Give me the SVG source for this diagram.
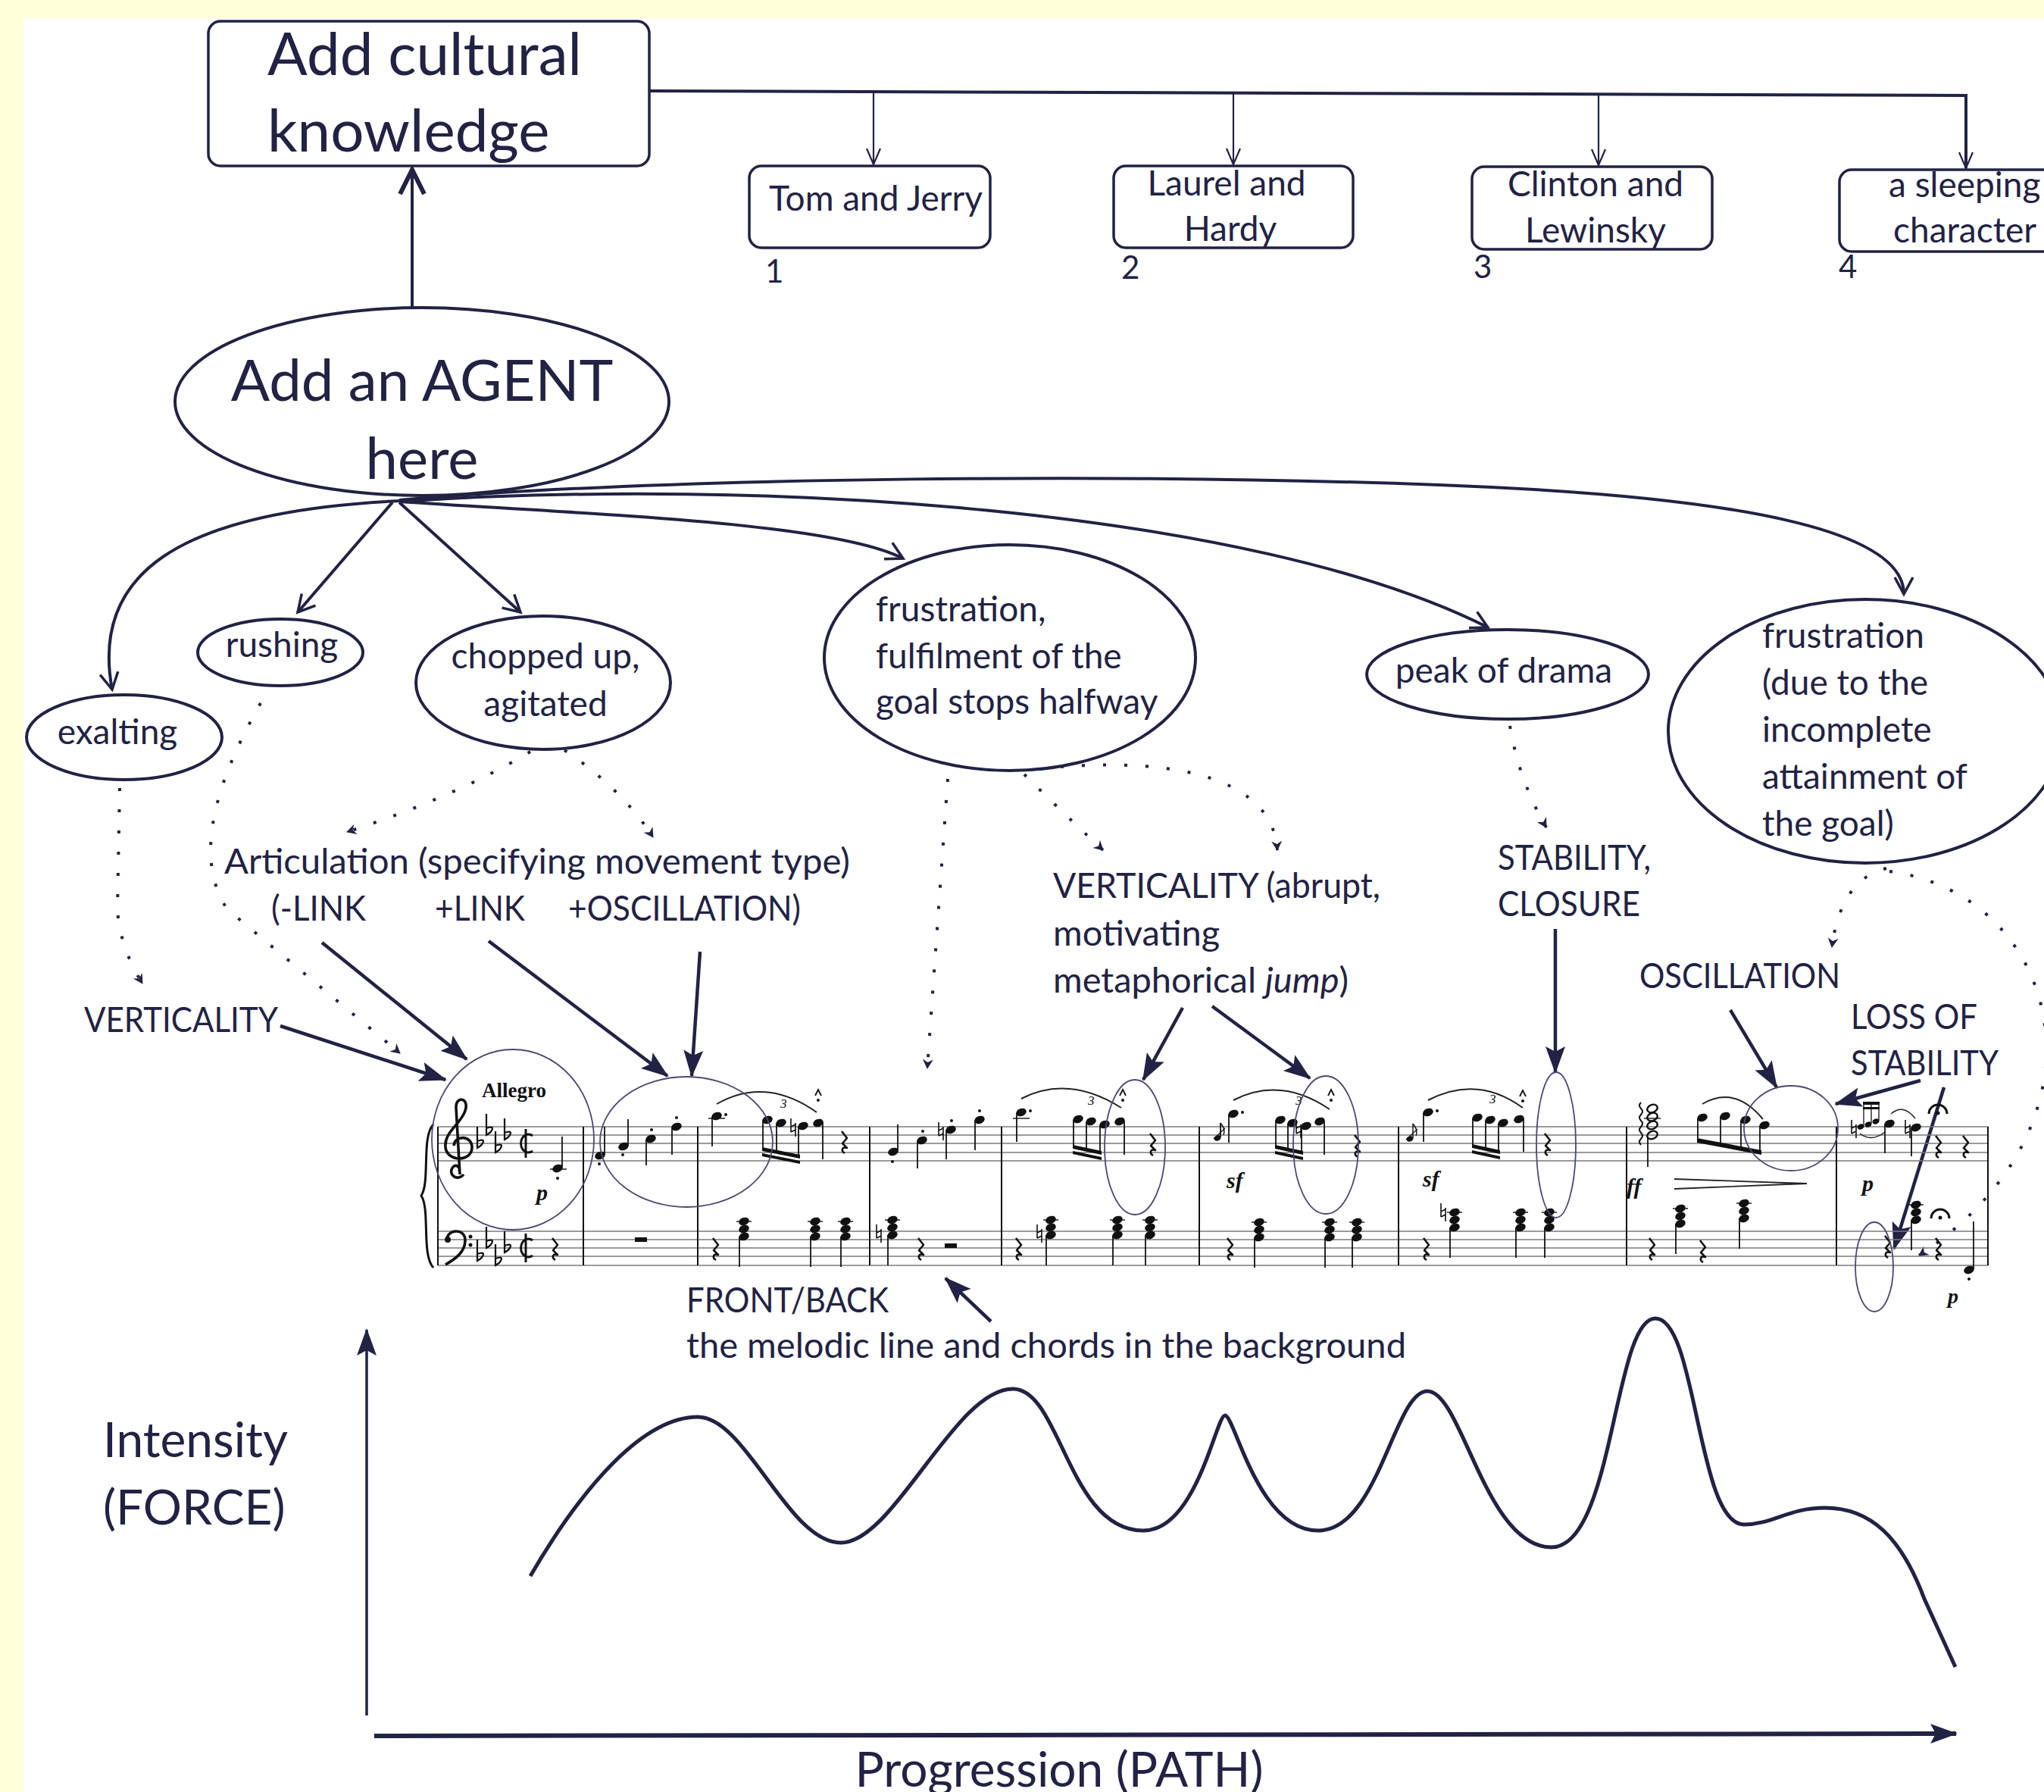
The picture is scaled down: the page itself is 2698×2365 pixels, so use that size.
<svg xmlns="http://www.w3.org/2000/svg" xmlns:xlink="http://www.w3.org/1999/xlink" width="2698" height="2365" viewBox="0 0 2698 2365">
<style>
.t{font-family:Lato,"Open Sans","DejaVu Sans",sans-serif;fill:#222244}
.n46{font-size:46px}.n47{font-size:47px}
.node{fill:#fff;stroke:#222244;stroke-width:4}
.box{fill:#fff;stroke:#222244;stroke-width:3.5}
.con{fill:none;stroke:#222244;stroke-width:4}
.thin{fill:none;stroke:#222244;stroke-width:2.2}
.sol{fill:none;stroke:#222244;stroke-width:4.5}
.dot{fill:none;stroke:#222244;stroke-width:4;stroke-dasharray:4 24}
.sl{stroke:#7a7a7a;stroke-width:1.6}
.bar{stroke:#111;stroke-width:2}
.stem{stroke:#111;stroke-width:1.8}
.sc{fill:none;stroke:#4a4a72;stroke-width:1.8}
.mus{font-family:"Liberation Serif",serif;fill:#111}
</style>
<defs>
<marker id="oa" markerUnits="userSpaceOnUse" markerWidth="30" markerHeight="30" viewBox="-2 -15 28 30" refX="22" refY="0" orient="auto"><path d="M0,-12 L22,0 L0,12" fill="none" stroke="#222244" stroke-width="3.5"/></marker>
<marker id="ob" markerUnits="userSpaceOnUse" markerWidth="40" markerHeight="40" viewBox="-3 -20 40 40" refX="32" refY="0" orient="auto"><path d="M0,-16 L32,0 L0,16" fill="none" stroke="#222244" stroke-width="6"/></marker>
<marker id="ot" markerUnits="userSpaceOnUse" markerWidth="26" markerHeight="22" viewBox="-2 -11 26 22" refX="21" refY="0" orient="auto"><path d="M0,-9 L21,0 L0,9" fill="none" stroke="#222244" stroke-width="2.2"/></marker>
<marker id="fa" markerUnits="userSpaceOnUse" markerWidth="40" markerHeight="30" viewBox="0 -15 40 30" refX="34" refY="0" orient="auto"><path d="M0,-13 L36,0 L0,13 L7,0 Z" fill="#222244"/></marker>
<marker id="da" markerUnits="userSpaceOnUse" markerWidth="16" markerHeight="16" viewBox="-1 -8 16 16" refX="12" refY="0" orient="auto"><path d="M0,-7 L13,0 L0,7 L4,0 Z" fill="#222244"/></marker>
<ellipse id="nh" cx="0" cy="0" rx="7" ry="5" transform="rotate(-22)" fill="#111"/>
<ellipse id="gh" cx="0" cy="0" rx="4.5" ry="3.4" transform="rotate(-22)" fill="#111"/>
<path id="flat" d="M-3,-22 L-3,6 C6,1 9,-8 -3,-3" fill="none" stroke="#111" stroke-width="2.2"/>
<path id="nat" d="M-3,-12 L-3,6 M3,-6 L3,12 M-3,-1 L3,-4 M-3,6 L3,3" fill="none" stroke="#111" stroke-width="1.6"/>
<path id="qr" d="M-3,-14 L4,-5 L-2,2 L4,8 C-3,6 -4,12 1,15" fill="none" stroke="#111" stroke-width="2.6" stroke-linejoin="round"/>
<g id="chord"><use xlink:href="#nh" x="0" y="0"/><use xlink:href="#nh" x="0" y="10"/><use xlink:href="#nh" x="0" y="20"/><line x1="-10" y1="0" x2="10" y2="0" stroke="#111" stroke-width="1.4"/><line x1="-6" y1="20" x2="-6" y2="60" class="stem"/></g>
<path id="cut" d="M9,-10 A10,12 0 1 0 9,10 M0,-19 L0,19" fill="none" stroke="#111" stroke-width="3"/>
</defs>

<rect x="0" y="0" width="2698" height="2365" fill="#FFFFDA"/>
<rect x="31" y="24" width="2667" height="2341" fill="#FFFFFF"/>

<g id="connectors">
<path class="con" d="M857,120 L2595,126 L2595,222" marker-end="url(#ot)" stroke-width="4"/>
<path class="thin" d="M1153,121 L1153,217" marker-end="url(#ot)"/>
<path class="thin" d="M1628,123 L1628,217" marker-end="url(#ot)"/>
<path class="thin" d="M2110,124 L2110,218" marker-end="url(#ot)"/>
<path class="con" d="M544,407 L544,224" stroke-width="7" marker-end="url(#ob)"/>
<path class="con" d="M527,661 C230,675 120,760 148,910" marker-end="url(#oa)"/>
<path class="con" d="M518,663 L393,808" marker-end="url(#oa)"/>
<path class="con" d="M527,663 L687,808" marker-end="url(#oa)"/>
<path class="con" d="M527,662 C800,680 1100,690 1192,737" marker-end="url(#oa)"/>
<path class="con" d="M527,662 C1000,630 1650,670 1964,828" marker-end="url(#oa)"/>
<path class="con" d="M527,660 C900,628 1500,625 1900,640 C2300,655 2513,700 2513,784" marker-end="url(#oa)"/>
<path class="dot" d="M158,1040 L155,1200 Q158,1250 188,1298" marker-end="url(#da)"/>
<path class="dot" d="M344,928 Q240,1110 300,1200 L528,1390" marker-end="url(#da)"/>
<path class="dot" d="M700,992 Q600,1052 458,1098" marker-end="url(#da)"/>
<path class="dot" d="M745,990 Q820,1040 862,1105" marker-end="url(#da)"/>
<path class="dot" d="M1251,1028 L1224,1410" marker-end="url(#da)"/>
<path class="dot" d="M1352,1022 Q1400,1070 1456,1122" marker-end="url(#da)"/>
<path class="dot" d="M1400,1012 C1560,1000 1680,1030 1686,1122" marker-end="url(#da)"/>
<path class="dot" d="M1993,958 Q2005,1030 2041,1092" marker-end="url(#da)"/>
<path class="dot" d="M2490,1146 Q2430,1160 2418,1250" marker-end="url(#da)"/>
<path class="dot" d="M2494,1150 C2720,1180 2800,1480 2533,1657" marker-end="url(#da)"/>
<path class="sol" d="M370,1354 L588,1425" marker-end="url(#fa)"/>
<path class="sol" d="M425,1244 L616,1398" marker-end="url(#fa)"/>
<path class="sol" d="M645,1242 L881,1420" marker-end="url(#fa)"/>
<path class="sol" d="M924,1256 L913,1420" marker-end="url(#fa)"/>
<path class="sol" d="M1561,1330 L1509,1425" marker-end="url(#fa)"/>
<path class="sol" d="M1600,1328 L1729,1423" marker-end="url(#fa)"/>
<path class="sol" d="M2053,1226 L2053,1415" marker-end="url(#fa)"/>
<path class="sol" d="M2284,1333 L2345,1435" marker-end="url(#fa)"/>
<path class="sol" d="M2535,1426 L2423,1457" marker-end="url(#fa)"/>
<path class="sol" d="M2566,1435 L2500,1648" marker-end="url(#fa)"/>
<path class="sol" d="M1308,1744 L1248,1687" marker-end="url(#fa)"/>
</g>

<g id="n-cultural">
<rect class="box" x="275" y="28" width="582" height="191" rx="16"/>
<text class="t" x="353" y="99" font-size="78">Add cultural</text>
<text class="t" x="353" y="200" font-size="78">knowledge</text>
</g>
<g id="n-tom">
<rect class="box" x="989" y="219" width="318" height="108" rx="16"/>
<text class="t n46" x="1015" y="278">Tom and Jerry</text>
<text class="t" x="1010" y="373" font-size="42">1</text>
</g>
<g id="n-laurel">
<rect class="box" x="1470" y="219" width="316" height="108" rx="16"/>
<text class="t n46" x="1619" y="258" text-anchor="middle">Laurel and</text>
<text class="t n46" x="1624" y="318" text-anchor="middle">Hardy</text>
<text class="t" x="1480" y="368" font-size="42">2</text>
</g>
<g id="n-clinton">
<rect class="box" x="1943" y="220" width="317" height="109" rx="16"/>
<text class="t n46" x="2106" y="259" text-anchor="middle">Clinton and</text>
<text class="t n46" x="2106" y="320" text-anchor="middle">Lewinsky</text>
<text class="t" x="1945" y="367" font-size="42">3</text>
</g>
<g id="n-sleeping">
<rect class="box" x="2428" y="224" width="320" height="108" rx="16"/>
<text class="t n46" x="2493" y="260">a sleeping</text>
<text class="t n46" x="2499" y="320">character</text>
<text class="t" x="2427" y="367" font-size="42">4</text>
</g>

<g id="n-agent">
<ellipse class="node" cx="557" cy="530" rx="326" ry="124"/>
<text class="t" x="557" y="529" font-size="76" text-anchor="middle">Add an AGENT</text>
<text class="t" x="557" y="632" font-size="76" text-anchor="middle">here</text>
</g>
<g id="n-exalting">
<ellipse class="node" cx="164" cy="973" rx="129" ry="56"/>
<text class="t n46" x="155" y="982" text-anchor="middle">exalting</text>
</g>
<g id="n-rushing">
<ellipse class="node" cx="370" cy="861" rx="109" ry="44"/>
<text class="t n46" x="372" y="867" text-anchor="middle">rushing</text>
</g>
<g id="n-chopped">
<ellipse class="node" cx="717" cy="901" rx="168" ry="88"/>
<text class="t n46" x="720" y="882" text-anchor="middle">chopped up,</text>
<text class="t n46" x="720" y="945" text-anchor="middle">agitated</text>
</g>
<g id="n-frust1">
<ellipse class="node" cx="1333" cy="868" rx="245" ry="149"/>
<text class="t n46" x="1156" y="820">frustration,</text>
<text class="t n46" x="1156" y="882">fulfilment of the</text>
<text class="t n46" x="1156" y="942">goal stops halfway</text>
</g>
<g id="n-peak">
<ellipse class="node" cx="1990" cy="890" rx="186" ry="59"/>
<text class="t n46" x="1985" y="901" text-anchor="middle">peak of drama</text>
</g>
<g id="n-frust2">
<ellipse class="node" cx="2462" cy="965" rx="260" ry="174"/>
<text class="t n46" x="2326" y="855">frustration</text>
<text class="t n46" x="2326" y="917">(due to the</text>
<text class="t n46" x="2326" y="979">incomplete</text>
<text class="t n46" x="2326" y="1041">attainment of</text>
<text class="t n46" x="2326" y="1103">the goal)</text>
</g>

<g id="l-articulation">
<text class="t n47" x="296" y="1153" textLength="826" lengthAdjust="spacingAndGlyphs">Articulation (specifying movement type)</text>
<text class="t n47" x="358" y="1215" textLength="125" lengthAdjust="spacingAndGlyphs">(-LINK</text>
<text class="t n47" x="574" y="1215" textLength="119" lengthAdjust="spacingAndGlyphs">+LINK</text>
<text class="t n47" x="750" y="1215" textLength="307" lengthAdjust="spacingAndGlyphs">+OSCILLATION)</text>
</g>
<g id="l-verticality"><text class="t n47" x="111" y="1362" textLength="256" lengthAdjust="spacingAndGlyphs">VERTICALITY</text></g>
<g id="l-vert2">
<text class="t n47" x="1390" y="1185" textLength="432" lengthAdjust="spacingAndGlyphs">VERTICALITY (abrupt,</text>
<text class="t n47" x="1390" y="1248">motivating</text>
<text class="t n47" x="1390" y="1310">metaphorical <tspan font-style="italic">jump</tspan>)</text>
</g>
<g id="l-stability">
<text class="t n47" x="1977" y="1148" textLength="202" lengthAdjust="spacingAndGlyphs">STABILITY,</text>
<text class="t n47" x="1977" y="1209" textLength="188" lengthAdjust="spacingAndGlyphs">CLOSURE</text>
</g>
<g id="l-oscillation"><text class="t n47" x="2164" y="1304" textLength="265" lengthAdjust="spacingAndGlyphs">OSCILLATION</text></g>
<g id="l-loss">
<text class="t n47" x="2443" y="1358" textLength="167" lengthAdjust="spacingAndGlyphs">LOSS OF</text>
<text class="t n47" x="2443" y="1419" textLength="195" lengthAdjust="spacingAndGlyphs">STABILITY</text>
</g>
<g id="l-front">
<text class="t n47" x="906" y="1732" textLength="267" lengthAdjust="spacingAndGlyphs">FRONT/BACK</text>
<text class="t n47" x="906" y="1792" textLength="950" lengthAdjust="spacingAndGlyphs">the melodic line and chords in the background</text>
</g>

<g id="score">
<g id="staves">
<line class="sl" x1="578" y1="1487" x2="2624" y2="1487"/>
<line class="sl" x1="578" y1="1498" x2="2624" y2="1498"/>
<line class="sl" x1="578" y1="1509" x2="2624" y2="1509"/>
<line class="sl" x1="578" y1="1521" x2="2624" y2="1521"/>
<line class="sl" x1="578" y1="1532" x2="2624" y2="1532"/>
<line class="sl" x1="578" y1="1625" x2="2624" y2="1625"/>
<line class="sl" x1="578" y1="1636" x2="2624" y2="1636"/>
<line class="sl" x1="578" y1="1647" x2="2624" y2="1647"/>
<line class="sl" x1="578" y1="1658" x2="2624" y2="1658"/>
<line class="sl" x1="578" y1="1670" x2="2624" y2="1670"/>
<line class="bar" x1="578" y1="1487" x2="578" y2="1670"/>
<line class="bar" x1="770" y1="1487" x2="770" y2="1670"/>
<line class="bar" x1="921" y1="1487" x2="921" y2="1670"/>
<line class="bar" x1="1148" y1="1487" x2="1148" y2="1670"/>
<line class="bar" x1="1322" y1="1487" x2="1322" y2="1670"/>
<line class="bar" x1="1583" y1="1487" x2="1583" y2="1670"/>
<line class="bar" x1="1846" y1="1487" x2="1846" y2="1670"/>
<line class="bar" x1="2147" y1="1487" x2="2147" y2="1670"/>
<line class="bar" x1="2424" y1="1487" x2="2424" y2="1670"/>
<line class="bar" x1="2624" y1="1487" x2="2624" y2="1670"/>
<path d="M572,1484 C556,1500 568,1560 556,1578 C568,1596 556,1656 572,1673" fill="none" stroke="#111" stroke-width="3"/>
</g>
<g id="m0">
<text class="mus" x="636" y="1448" font-size="27" font-weight="bold">Allegro</text>
<path d="M612,1550 C604,1560 590,1550 598,1540 C602,1536 608,1540 606,1546 M607,1550 L602,1462 C601,1446 620,1448 614,1466 C608,1484 586,1494 588,1514 C590,1534 624,1534 623,1513 C622,1498 600,1498 599,1512" fill="none" stroke="#111" stroke-width="3.6"/>
<use xlink:href="#flat" x="633" y="1509"/><use xlink:href="#flat" x="645" y="1492"/><use xlink:href="#flat" x="657" y="1515"/><use xlink:href="#flat" x="669" y="1498"/>
<use xlink:href="#cut" x="694" y="1509"/>
<use xlink:href="#nh" x="736" y="1542"/><line class="stem" x1="742" y1="1541" x2="742" y2="1500"/><circle cx="736" cy="1555" r="2" fill="#111"/>
<line x1="726" y1="1543" x2="748" y2="1543" stroke="#111" stroke-width="1.4"/>
<text class="mus" x="708" y="1584" font-size="30" font-weight="bold" font-style="italic">p</text>
<path d="M590,1637 C589,1622 614,1620 614,1637 C614,1653 600,1662 588,1669" fill="none" stroke="#111" stroke-width="3.6"/>
<circle cx="591" cy="1636" r="4" fill="#111"/>
<circle cx="621" cy="1632" r="2.5" fill="#111"/><circle cx="621" cy="1643" r="2.5" fill="#111"/>
<use xlink:href="#flat" x="633" y="1658"/><use xlink:href="#flat" x="645" y="1641"/><use xlink:href="#flat" x="657" y="1664"/><use xlink:href="#flat" x="669" y="1647"/>
<use xlink:href="#cut" x="694" y="1647"/>
<use xlink:href="#qr" x="732" y="1648"/>
</g>
<g id="m1">
<use xlink:href="#nh" x="792" y="1525"/><line class="stem" x1="798" y1="1524" x2="798" y2="1487"/><circle cx="791" cy="1536" r="2" fill="#111"/>
<use xlink:href="#nh" x="823" y="1513"/><line class="stem" x1="829" y1="1512" x2="829" y2="1477"/><circle cx="822" cy="1524" r="2" fill="#111"/>
<use xlink:href="#nh" x="859" y="1503"/><line class="stem" x1="853" y1="1504" x2="853" y2="1538"/><circle cx="860" cy="1491" r="2" fill="#111"/>
<use xlink:href="#nh" x="893" y="1487"/><line class="stem" x1="887" y1="1488" x2="887" y2="1524"/><circle cx="893" cy="1475" r="2" fill="#111"/>
<rect x="838" y="1633" width="16" height="6" fill="#111"/>
</g>
<g id="m2">
<use xlink:href="#nh" x="946" y="1473"/><circle cx="958" cy="1471" r="2" fill="#111"/><line class="stem" x1="940" y1="1474" x2="940" y2="1513"/>
<line x1="935" y1="1476" x2="957" y2="1476" stroke="#111" stroke-width="1.4"/>
<use xlink:href="#nh" x="1013" y="1478"/><use xlink:href="#nh" x="1031" y="1482"/><use xlink:href="#nh" x="1060" y="1486"/><use xlink:href="#nh" x="1080" y="1482"/>
<use xlink:href="#nat" x="1047" y="1488"/>
<line class="stem" x1="1007" y1="1479" x2="1007" y2="1518"/><line class="stem" x1="1025" y1="1483" x2="1025" y2="1521"/><line class="stem" x1="1054" y1="1487" x2="1054" y2="1527"/><line class="stem" x1="1086" y1="1481" x2="1086" y2="1530"/>
<path d="M1006,1514 L1056,1524 L1056,1529 L1006,1519 Z M1006,1522 L1056,1532 L1056,1536 L1006,1526 Z" fill="#111"/>
<path d="M946,1457 Q1010,1420 1078,1468" fill="none" stroke="#222" stroke-width="2"/>
<text class="mus" x="1030" y="1462" font-size="17" font-style="italic">3</text>
<path d="M1076,1446 L1080,1438 L1084,1446" fill="none" stroke="#111" stroke-width="1.8"/><circle cx="1080" cy="1452" r="2" fill="#111"/>
<use xlink:href="#qr" x="1114" y="1507"/>
<use xlink:href="#qr" x="944" y="1648"/>
<use xlink:href="#chord" x="982" y="1612"/><use xlink:href="#chord" x="1076" y="1612"/><use xlink:href="#chord" x="1116" y="1612"/>
</g>
<g id="m3">
<use xlink:href="#nh" x="1179" y="1520"/><line class="stem" x1="1185" y1="1519" x2="1185" y2="1484"/><circle cx="1178" cy="1533" r="2" fill="#111"/>
<use xlink:href="#nh" x="1217" y="1505"/><line class="stem" x1="1211" y1="1506" x2="1211" y2="1542"/><circle cx="1218" cy="1493" r="2" fill="#111"/>
<use xlink:href="#nh" x="1255" y="1491"/><use xlink:href="#nat" x="1242" y="1493"/><line class="stem" x1="1249" y1="1492" x2="1249" y2="1530"/><circle cx="1256" cy="1479" r="2" fill="#111"/>
<use xlink:href="#nh" x="1293" y="1478"/><line class="stem" x1="1287" y1="1479" x2="1287" y2="1518"/><circle cx="1293" cy="1466" r="2" fill="#111"/>
<use xlink:href="#chord" x="1178" y="1610"/><use xlink:href="#nat" x="1160" y="1628"/>
<use xlink:href="#qr" x="1215" y="1648"/>
<rect x="1247" y="1641" width="16" height="6" fill="#111"/>
</g>
<g id="m4">
<use xlink:href="#nh" x="1348" y="1468"/><circle cx="1360" cy="1466" r="2" fill="#111"/><line class="stem" x1="1342" y1="1469" x2="1342" y2="1507"/>
<line x1="1337" y1="1476" x2="1359" y2="1476" stroke="#111" stroke-width="1.4"/>
<use xlink:href="#nh" x="1423" y="1477"/><use xlink:href="#nh" x="1440" y="1480"/><use xlink:href="#nh" x="1458" y="1484"/><use xlink:href="#nh" x="1478" y="1480"/>
<line class="stem" x1="1417" y1="1478" x2="1417" y2="1514"/><line class="stem" x1="1434" y1="1481" x2="1434" y2="1517"/><line class="stem" x1="1452" y1="1485" x2="1452" y2="1521"/><line class="stem" x1="1484" y1="1479" x2="1484" y2="1524"/>
<path d="M1416,1511 L1454,1519 L1454,1524 L1416,1516 Z M1416,1519 L1454,1527 L1454,1531 L1416,1523 Z" fill="#111"/>
<path d="M1348,1450 Q1410,1418 1480,1462" fill="none" stroke="#222" stroke-width="2"/>
<text class="mus" x="1436" y="1458" font-size="17" font-style="italic">3</text>
<path d="M1478,1446 L1482,1438 L1486,1446" fill="none" stroke="#111" stroke-width="1.8"/><circle cx="1482" cy="1452" r="2" fill="#111"/>
<use xlink:href="#qr" x="1521" y="1510"/>
<use xlink:href="#qr" x="1344" y="1648"/>
<use xlink:href="#chord" x="1387" y="1610"/><use xlink:href="#nat" x="1372" y="1628"/>
<use xlink:href="#chord" x="1475" y="1610"/><use xlink:href="#chord" x="1518" y="1610"/>
</g>
<g id="m5">
<use xlink:href="#gh" x="1607" y="1502"/><line class="stem" x1="1611" y1="1501" x2="1611" y2="1482" stroke="#111" stroke-width="1.4"/><path d="M1611,1482 Q1618,1490 1615,1498" fill="none" stroke="#111" stroke-width="1.4"/><line x1="1602" y1="1503" x2="1617" y2="1489" stroke="#111" stroke-width="1.2"/>
<use xlink:href="#nh" x="1628" y="1470"/><circle cx="1640" cy="1468" r="2" fill="#111"/><line class="stem" x1="1622" y1="1471" x2="1622" y2="1508"/>
<use xlink:href="#nh" x="1690" y="1478"/><use xlink:href="#nh" x="1706" y="1482"/><use xlink:href="#nh" x="1724" y="1486"/><use xlink:href="#nh" x="1742" y="1480"/>
<use xlink:href="#nat" x="1714" y="1490"/>
<line class="stem" x1="1684" y1="1479" x2="1684" y2="1514"/><line class="stem" x1="1700" y1="1483" x2="1700" y2="1518"/><line class="stem" x1="1718" y1="1487" x2="1718" y2="1522"/><line class="stem" x1="1748" y1="1479" x2="1748" y2="1524"/>
<path d="M1683,1511 L1720,1519 L1720,1524 L1683,1516 Z M1683,1519 L1720,1527 L1720,1531 L1683,1523 Z" fill="#111"/>
<path d="M1628,1452 Q1690,1420 1755,1464" fill="none" stroke="#222" stroke-width="2"/>
<text class="mus" x="1710" y="1458" font-size="17" font-style="italic">3</text>
<path d="M1753,1446 L1757,1438 L1761,1446" fill="none" stroke="#111" stroke-width="1.8"/><circle cx="1757" cy="1452" r="2" fill="#111"/>
<use xlink:href="#qr" x="1791" y="1512"/>
<text class="mus" x="1619" y="1568" font-size="30" font-weight="bold" font-style="italic">sf</text>
<use xlink:href="#qr" x="1623" y="1648"/>
<use xlink:href="#chord" x="1662" y="1613"/><use xlink:href="#chord" x="1755" y="1613"/><use xlink:href="#chord" x="1791" y="1613"/>
</g>
<g id="m6">
<use xlink:href="#gh" x="1861" y="1503"/><line x1="1865" y1="1502" x2="1865" y2="1483" stroke="#111" stroke-width="1.4"/><path d="M1865,1483 Q1872,1491 1869,1499" fill="none" stroke="#111" stroke-width="1.4"/><line x1="1856" y1="1504" x2="1871" y2="1490" stroke="#111" stroke-width="1.2"/>
<use xlink:href="#nh" x="1885" y="1468"/><circle cx="1897" cy="1466" r="2" fill="#111"/><line class="stem" x1="1879" y1="1469" x2="1879" y2="1507"/>
<use xlink:href="#nh" x="1950" y="1475"/><use xlink:href="#nh" x="1967" y="1478"/><use xlink:href="#nh" x="1984" y="1482"/><use xlink:href="#nh" x="2005" y="1477"/>
<line class="stem" x1="1944" y1="1476" x2="1944" y2="1513"/><line class="stem" x1="1961" y1="1479" x2="1961" y2="1516"/><line class="stem" x1="1978" y1="1483" x2="1978" y2="1520"/><line class="stem" x1="2011" y1="1476" x2="2011" y2="1520"/>
<path d="M1943,1510 L1980,1518 L1980,1523 L1943,1515 Z M1943,1518 L1980,1526 L1980,1530 L1943,1522 Z" fill="#111"/>
<path d="M1885,1452 Q1950,1418 2010,1462" fill="none" stroke="#222" stroke-width="2"/>
<text class="mus" x="1966" y="1456" font-size="17" font-style="italic">3</text>
<path d="M2006,1447 L2010,1439 L2014,1447" fill="none" stroke="#111" stroke-width="1.8"/><circle cx="2010" cy="1453" r="2" fill="#111"/>
<use xlink:href="#qr" x="2042" y="1510"/>
<text class="mus" x="1878" y="1566" font-size="30" font-weight="bold" font-style="italic">sf</text>
<use xlink:href="#qr" x="1882" y="1648"/>
<use xlink:href="#chord" x="1920" y="1600"/><use xlink:href="#nat" x="1905" y="1600"/>
<use xlink:href="#chord" x="2007" y="1600"/><use xlink:href="#chord" x="2045" y="1600"/>
</g>
<g id="m7">
<path d="M2166,1455 q-4,4 0,8 q4,4 0,8 q-4,4 0,8 q4,4 0,8 q-4,4 0,8 q4,4 0,8 q-4,4 0,8" fill="none" stroke="#111" stroke-width="2"/>
<ellipse cx="2181" cy="1463" rx="7" ry="5" fill="none" stroke="#111" stroke-width="2.4" transform="rotate(-22 2181 1463)"/>
<ellipse cx="2181" cy="1474" rx="7" ry="5" fill="none" stroke="#111" stroke-width="2.4" transform="rotate(-22 2181 1474)"/>
<ellipse cx="2181" cy="1485" rx="7" ry="5" fill="none" stroke="#111" stroke-width="2.4" transform="rotate(-22 2181 1485)"/>
<ellipse cx="2181" cy="1498" rx="7" ry="5" fill="none" stroke="#111" stroke-width="2.4" transform="rotate(-22 2181 1498)"/>
<line x1="2170" y1="1476" x2="2192" y2="1476" stroke="#111" stroke-width="1.4"/>
<line class="stem" x1="2175" y1="1500" x2="2175" y2="1540"/>
<use xlink:href="#nh" x="2247" y="1475"/><use xlink:href="#nh" x="2277" y="1473"/><use xlink:href="#nh" x="2304" y="1478"/><use xlink:href="#nh" x="2329" y="1485"/>
<line class="stem" x1="2241" y1="1476" x2="2241" y2="1505"/><line class="stem" x1="2271" y1="1474" x2="2271" y2="1510"/><line class="stem" x1="2298" y1="1479" x2="2298" y2="1516"/><line class="stem" x1="2323" y1="1486" x2="2323" y2="1521"/>
<path d="M2240,1502 L2325,1518 L2325,1524 L2240,1508 Z" fill="#111"/>
<path d="M2247,1457 Q2290,1432 2327,1477" fill="none" stroke="#222" stroke-width="2"/>
<text class="mus" x="2147" y="1576" font-size="30" font-weight="bold" font-style="italic">ff</text>
<path d="M2210,1556 L2385,1562 L2210,1569" fill="none" stroke="#222" stroke-width="1.8"/>
<use xlink:href="#qr" x="2180" y="1648"/>
<use xlink:href="#chord" x="2218" y="1595"/>
<use xlink:href="#qr" x="2247" y="1651"/>
<use xlink:href="#chord" x="2302" y="1588"/>
</g>
<g id="m8">
<use xlink:href="#nat" x="2447" y="1490"/>
<use xlink:href="#gh" x="2456" y="1487"/><use xlink:href="#gh" x="2466" y="1484"/><use xlink:href="#gh" x="2476" y="1480"/>
<line x1="2460" y1="1486" x2="2460" y2="1455" stroke="#111" stroke-width="1.3"/><line x1="2470" y1="1483" x2="2470" y2="1455" stroke="#111" stroke-width="1.3"/><line x1="2480" y1="1479" x2="2480" y2="1455" stroke="#111" stroke-width="1.3"/>
<path d="M2459,1454 L2481,1454 L2481,1458 L2459,1458 Z M2459,1461 L2481,1461 L2481,1464 L2459,1464 Z" fill="#111"/>
<path d="M2455,1496 Q2470,1508 2488,1494" fill="none" stroke="#222" stroke-width="1.5"/>
<use xlink:href="#nh" x="2494" y="1483"/><line class="stem" x1="2488" y1="1484" x2="2488" y2="1522"/>
<use xlink:href="#nat" x="2518" y="1490"/><use xlink:href="#nh" x="2529" y="1488"/><line class="stem" x1="2523" y1="1489" x2="2523" y2="1526"/>
<path d="M2496,1470 Q2512,1456 2528,1476" fill="none" stroke="#222" stroke-width="1.5"/>
<path d="M2546,1470 A12,12 0 0 1 2570,1470" fill="none" stroke="#111" stroke-width="3"/><circle cx="2558" cy="1469" r="2.5" fill="#111"/>
<use xlink:href="#qr" x="2558" y="1513"/><use xlink:href="#qr" x="2594" y="1513"/>
<text class="mus" x="2458" y="1572" font-size="30" font-weight="bold" font-style="italic">p</text>
<use xlink:href="#chord" x="2529" y="1590"/>
<path d="M2549,1608 A12,12 0 0 1 2573,1608" fill="none" stroke="#111" stroke-width="3"/><circle cx="2561" cy="1607" r="2.5" fill="#111"/>
<use xlink:href="#qr" x="2491" y="1645"/><use xlink:href="#qr" x="2558" y="1648"/>
<use xlink:href="#nh" x="2599" y="1676"/><line class="stem" x1="2605" y1="1675" x2="2605" y2="1612"/><circle cx="2599" cy="1688" r="2" fill="#111"/>
<text class="mus" x="2571" y="1720" font-size="28" font-weight="bold" font-style="italic">p</text>
</g>
<g id="score-marks">
<ellipse class="sc" cx="677" cy="1504" rx="107" ry="119"/>
<ellipse class="sc" cx="906" cy="1507" rx="114" ry="86"/>
<ellipse class="sc" cx="1498" cy="1514" rx="40" ry="89"/>
<ellipse class="sc" cx="1750" cy="1511" rx="43" ry="91"/>
<ellipse class="sc" cx="2054" cy="1511" rx="26" ry="96"/>
<ellipse class="sc" cx="2364" cy="1489" rx="62" ry="56"/>
<ellipse class="sc" cx="2474" cy="1672" rx="25" ry="59"/>
</g>
</g>

<g id="chart">
<line x1="484" y1="2264" x2="484" y2="1755" stroke="#222244" stroke-width="3.5" marker-end="url(#fa)"/>
<line x1="494" y1="2291" x2="2582" y2="2288" stroke="#222244" stroke-width="6" marker-end="url(#fa)"/>
<path d="M700,2080 C770,1960 850,1870 921,1870 C985,1870 1040,2036 1110,2036 C1180,2036 1260,1833 1337,1833 C1400,1833 1410,2020 1509,2020 C1580,2020 1605,1868 1617,1868 C1630,1868 1660,2020 1740,2020 C1820,2020 1840,1836 1884,1836 C1930,1836 1960,2042 2048,2042 C2130,2042 2130,1740 2185,1740 C2240,1740 2240,2012 2302,2012 C2340,2012 2360,1990 2409,1990 C2470,1990 2510,2030 2540,2110 L2581,2200" fill="none" stroke="#222244" stroke-width="5"/>
<text class="t" x="136" y="1923" font-size="64">Intensity</text>
<text class="t" x="136" y="2012" font-size="64">(FORCE)</text>
<text class="t" x="1398" y="2358" font-size="64" text-anchor="middle">Progression (PATH)</text>
</g>
</svg>
